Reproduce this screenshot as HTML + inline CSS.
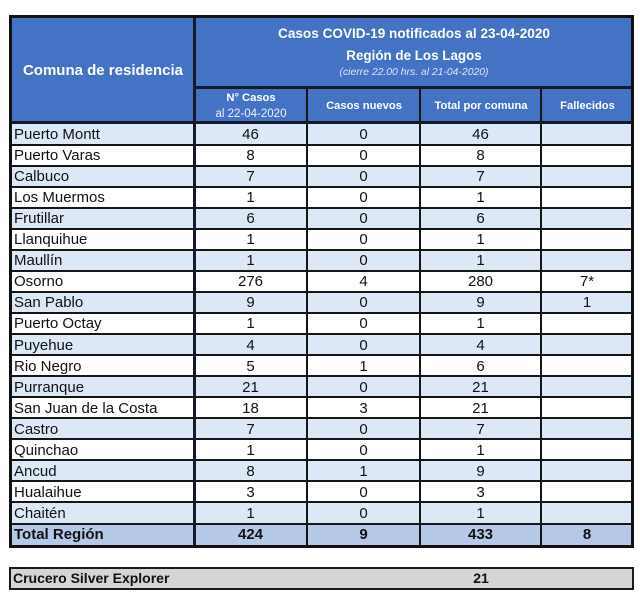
<!DOCTYPE html>
<html><head><meta charset="utf-8">
<style>
*{margin:0;padding:0;box-sizing:border-box}
body{width:640px;height:600px;background:#fff;position:relative;overflow:hidden;font-family:"Liberation Sans",sans-serif;color:#111}
.a{position:absolute}
.hb{background:#4472c4}
.r{position:absolute;left:10px;width:623px;height:21.05px;display:flex;font-size:15px;line-height:21px}
.r div{text-align:center;flex:none}
.r .n{width:184px;text-align:left;padding-left:4px}
.r .c2{width:113px}.r .c3{width:113px}.r .c4{width:121px}.r .c5{width:92px}
.l{background:#dce8f6}
.w{background:#fff}
.t{background:#b5c8e8;font-weight:bold}
.hl{position:absolute;left:10px;width:623px;height:2px;background:#161616}
.vl{position:absolute;width:2px;background:#161616}
.ht{position:absolute;color:#fff;text-align:center;white-space:nowrap}
</style></head><body>

<!-- header background -->
<div class="a hb" style="left:10px;top:16px;width:623px;height:108px"></div>

<!-- rows -->
<div class="r l" style="top:124px"><div class="n">Puerto Montt</div><div class="c2">46</div><div class="c3">0</div><div class="c4">46</div><div class="c5"></div></div>
<div class="r w" style="top:145.05px"><div class="n">Puerto Varas</div><div class="c2">8</div><div class="c3">0</div><div class="c4">8</div><div class="c5"></div></div>
<div class="r l" style="top:166.1px"><div class="n">Calbuco</div><div class="c2">7</div><div class="c3">0</div><div class="c4">7</div><div class="c5"></div></div>
<div class="r w" style="top:187.15px"><div class="n">Los Muermos</div><div class="c2">1</div><div class="c3">0</div><div class="c4">1</div><div class="c5"></div></div>
<div class="r l" style="top:208.2px"><div class="n">Frutillar</div><div class="c2">6</div><div class="c3">0</div><div class="c4">6</div><div class="c5"></div></div>
<div class="r w" style="top:229.25px"><div class="n">Llanquihue</div><div class="c2">1</div><div class="c3">0</div><div class="c4">1</div><div class="c5"></div></div>
<div class="r l" style="top:250.3px"><div class="n">Maullín</div><div class="c2">1</div><div class="c3">0</div><div class="c4">1</div><div class="c5"></div></div>
<div class="r w" style="top:271.35px"><div class="n">Osorno</div><div class="c2">276</div><div class="c3">4</div><div class="c4">280</div><div class="c5">7*</div></div>
<div class="r l" style="top:292.4px"><div class="n">San Pablo</div><div class="c2">9</div><div class="c3">0</div><div class="c4">9</div><div class="c5">1</div></div>
<div class="r w" style="top:313.45px"><div class="n">Puerto Octay</div><div class="c2">1</div><div class="c3">0</div><div class="c4">1</div><div class="c5"></div></div>
<div class="r l" style="top:334.5px"><div class="n">Puyehue</div><div class="c2">4</div><div class="c3">0</div><div class="c4">4</div><div class="c5"></div></div>
<div class="r w" style="top:355.55px"><div class="n">Rio Negro</div><div class="c2">5</div><div class="c3">1</div><div class="c4">6</div><div class="c5"></div></div>
<div class="r l" style="top:376.6px"><div class="n">Purranque</div><div class="c2">21</div><div class="c3">0</div><div class="c4">21</div><div class="c5"></div></div>
<div class="r w" style="top:397.65px"><div class="n">San Juan de la Costa</div><div class="c2">18</div><div class="c3">3</div><div class="c4">21</div><div class="c5"></div></div>
<div class="r l" style="top:418.7px"><div class="n">Castro</div><div class="c2">7</div><div class="c3">0</div><div class="c4">7</div><div class="c5"></div></div>
<div class="r w" style="top:439.75px"><div class="n">Quinchao</div><div class="c2">1</div><div class="c3">0</div><div class="c4">1</div><div class="c5"></div></div>
<div class="r l" style="top:460.8px"><div class="n">Ancud</div><div class="c2">8</div><div class="c3">1</div><div class="c4">9</div><div class="c5"></div></div>
<div class="r w" style="top:481.85px"><div class="n">Hualaihue</div><div class="c2">3</div><div class="c3">0</div><div class="c4">3</div><div class="c5"></div></div>
<div class="r l" style="top:502.9px"><div class="n">Chaitén</div><div class="c2">1</div><div class="c3">0</div><div class="c4">1</div><div class="c5"></div></div>
<div class="r t" style="top:523.95px"><div class="n">Total Región</div><div class="c2">424</div><div class="c3">9</div><div class="c4">433</div><div class="c5">8</div></div>

<!-- row lines -->
<div class="hl" style="top:144px"></div>
<div class="hl" style="top:165px"></div>
<div class="hl" style="top:186px"></div>
<div class="hl" style="top:207px"></div>
<div class="hl" style="top:228px"></div>
<div class="hl" style="top:249px"></div>
<div class="hl" style="top:270px"></div>
<div class="hl" style="top:291px"></div>
<div class="hl" style="top:312px"></div>
<div class="hl" style="top:333px"></div>
<div class="hl" style="top:354px"></div>
<div class="hl" style="top:375px"></div>
<div class="hl" style="top:396px"></div>
<div class="hl" style="top:417px"></div>
<div class="hl" style="top:438px"></div>
<div class="hl" style="top:459px"></div>
<div class="hl" style="top:480px"></div>
<div class="hl" style="top:501px"></div>
<div class="hl" style="top:523px"></div>

<!-- vertical lines -->
<div class="vl" style="left:193px;top:16px;height:532px;width:3px;background:#141a2a"></div>
<div class="vl" style="left:306px;top:87px;height:461px"></div>
<div class="vl" style="left:419px;top:87px;height:461px"></div>
<div class="vl" style="left:540px;top:87px;height:461px"></div>

<!-- header lines -->
<div class="a" style="left:194px;top:86px;width:439px;height:3px;background:#141a2a"></div>
<div class="a" style="left:10px;top:121px;width:623px;height:3px;background:#141a2a"></div>

<!-- outer border -->
<div class="a" style="left:9px;top:15px;width:625px;height:533px;border:3px solid #111"></div>

<!-- header texts -->
<div class="ht" style="left:12px;width:182px;top:61px;font-size:15px;font-weight:bold;line-height:20px">Comuna de residencia</div>
<div class="ht" style="left:196px;width:436px;top:25px;font-size:13.6px;font-weight:bold;line-height:18px">Casos COVID-19 notificados al 23-04-2020</div>
<div class="ht" style="left:196px;width:436px;top:47px;font-size:13.4px;font-weight:bold;line-height:18px">Región de Los Lagos</div>
<div class="ht" style="left:196px;width:436px;top:66px;font-size:10.4px;font-style:italic;line-height:13px;color:#dfe6f5">(cierre 22.00 hrs. al 21-04-2020)</div>

<div class="ht" style="left:195px;width:112px;top:91px;font-size:11.2px;font-weight:bold;line-height:14px">N° Casos</div>
<div class="ht" style="left:195px;width:112px;top:107px;font-size:11.5px;line-height:14px;color:#eef2fa">al 22-04-2020</div>
<div class="ht" style="left:308px;width:112px;top:99px;font-size:11.2px;font-weight:bold;line-height:14px">Casos nuevos</div>
<div class="ht" style="left:421px;width:120px;top:99px;font-size:11.2px;font-weight:bold;line-height:14px">Total por comuna</div>
<div class="ht" style="left:542px;width:91px;top:99px;font-size:11.2px;font-weight:bold;line-height:14px">Fallecidos</div>

<!-- crucero -->
<div class="a" style="left:9px;top:567px;width:625px;height:23px;border:2px solid #1a1a1a;background:#d5d5d5"></div>
<div class="a" style="left:13px;top:568px;font-size:14px;font-weight:bold;line-height:21px;white-space:nowrap">Crucero Silver Explorer</div>
<div class="a" style="left:441px;width:80px;text-align:center;top:568px;font-size:14px;font-weight:bold;line-height:21px">21</div>

</body></html>
